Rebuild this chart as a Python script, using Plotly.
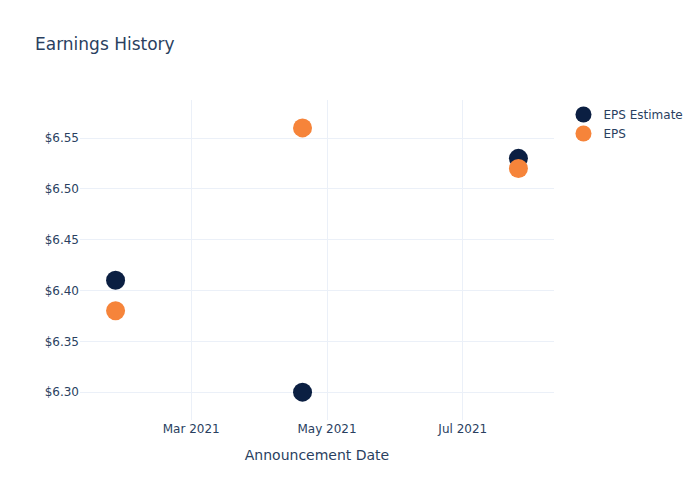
import plotly.graph_objects as go

dates = ["2021-01-26", "2021-04-20", "2021-07-26"]
eps_estimate = [6.41, 6.30, 6.53]
eps_actual = [6.38, 6.56, 6.52]

fig = go.Figure()
fig.add_trace(go.Scatter(x=dates, y=eps_estimate, mode="markers", name="EPS Estimate",
                         marker=dict(size=19, color="#0b1f42")))
fig.add_trace(go.Scatter(x=dates, y=eps_actual, mode="markers", name="EPS",
                         marker=dict(size=19, color="#f6843a")))
fig.update_layout(
    template="plotly_white",
    width=700, height=500,
    font=dict(family="DejaVu Sans"),
    title=dict(text="Earnings History"),
    xaxis=dict(title=dict(text="Announcement Date"), dtick="M2", tickformat="%b %Y"),
    yaxis=dict(tickprefix="$", tickformat=".2f"),
)
fig.write_html("out.html", config={"displayModeBar": False},
               post_script="document.body.style.margin='0';")
